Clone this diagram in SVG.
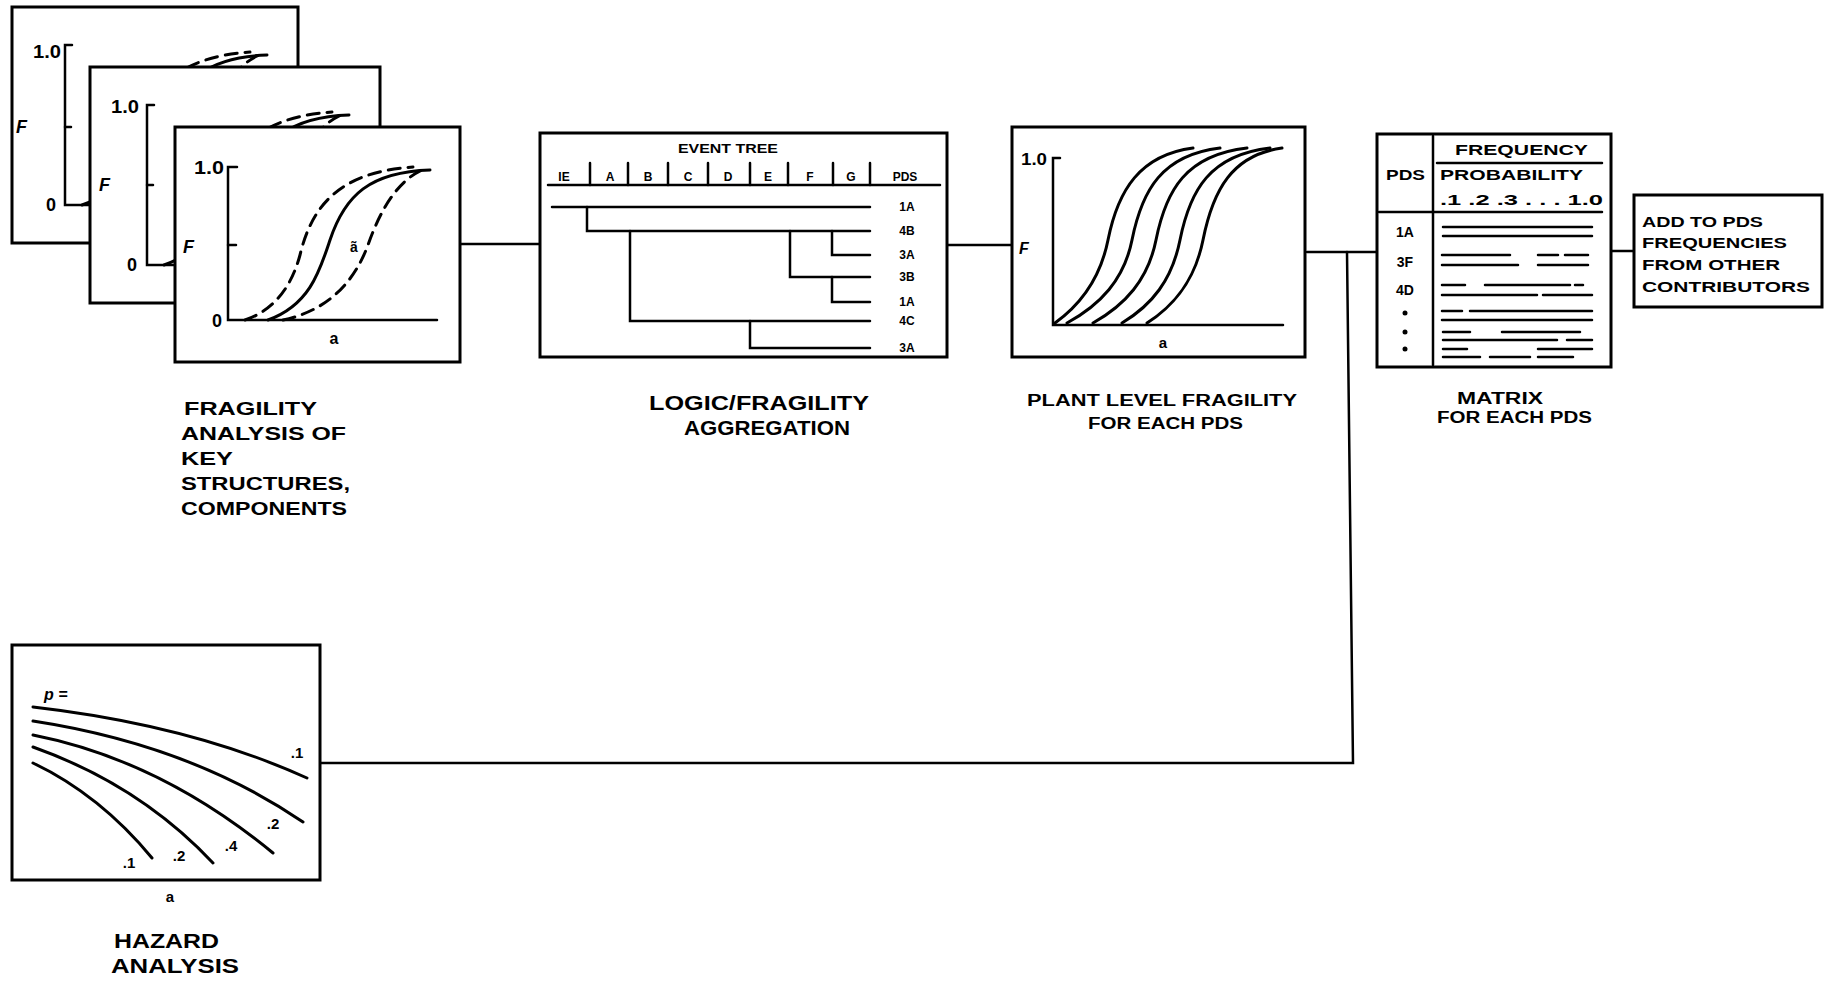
<svg xmlns="http://www.w3.org/2000/svg" width="1828" height="985" viewBox="0 0 1828 985">
<style>
.box{fill:#fff;stroke:#000;stroke-width:3}
.ln{fill:none;stroke:#000;stroke-width:2.5;stroke-linecap:round}
.cv{fill:none;stroke:#000;stroke-width:3;stroke-linecap:round}
.ds{stroke-dasharray:12 8}
.t{font-family:"Liberation Sans",Arial,sans-serif;font-weight:bold;fill:#000}
.it{font-style:italic}
.m{text-anchor:middle}
</style>
<defs>
<g id="fragCurves">
<path class="cv" d="M268 320 C310 305,320 270,330 240 C345 195,370 172,430 170"/>
<path class="cv ds" d="M245 320 C275 310,292 285,300 255 C312 205,340 172,413 167"/>
<path class="cv ds" d="M283 320 C330 310,355 280,368 245 C382 205,400 180,422 170"/>
</g>
</defs>
<rect width="1828" height="985" fill="#fff"/>

<g id="connectors">
<line class="ln" x1="460" y1="244" x2="540" y2="244"/>
<line class="ln" x1="947" y1="245" x2="1012" y2="245"/>
<line class="ln" x1="1307" y1="252" x2="1377" y2="252"/>
<polyline class="ln" points="1347,252 1353,763 321,763"/>
<line class="ln" x1="1611" y1="251" x2="1634" y2="251"/>
</g>

<g id="fragility-card-1">
<rect class="box" x="12" y="7" width="286" height="236"/>
<polyline class="ln" points="72,45 65,45 65,205 270,205"/>
<line class="ln" x1="65" y1="127" x2="71" y2="127"/>
<use href="#fragCurves" transform="translate(-163,-115)"/>
<text class="t" x="33" y="58" font-size="18" textLength="28" lengthAdjust="spacingAndGlyphs">1.0</text>
<text class="t" x="46" y="211" font-size="18">0</text>
<text class="t it" x="16" y="133" font-size="18">F</text>
</g>

<g id="fragility-card-2">
<rect class="box" x="90" y="67" width="290" height="236"/>
<polyline class="ln" points="154,105 147,105 147,265 330,265"/>
<line class="ln" x1="147" y1="185" x2="153" y2="185"/>
<use href="#fragCurves" transform="translate(-81,-55)"/>
<text class="t" x="111" y="113" font-size="18" textLength="28" lengthAdjust="spacingAndGlyphs">1.0</text>
<text class="t" x="127" y="271" font-size="18">0</text>
<text class="t it" x="99" y="191" font-size="18">F</text>
</g>

<g id="fragility-card-front">
<rect class="box" x="175" y="127" width="285" height="235"/>
<polyline class="ln" points="237,167 228,167 228,320 437,320"/>
<line class="ln" x1="228" y1="245" x2="236" y2="245"/>
<use href="#fragCurves"/>
<text class="t" x="194" y="174" font-size="18" textLength="30" lengthAdjust="spacingAndGlyphs">1.0</text>
<text class="t" x="212" y="327" font-size="18">0</text>
<text class="t it" x="183" y="253" font-size="18">F</text>
<text class="t m" x="334" y="344" font-size="16">a</text>
<text class="t m" x="354" y="252" font-size="14">ã</text>
</g>

<g id="fragility-label">
<text class="t" x="184" y="415" font-size="19" textLength="133" lengthAdjust="spacingAndGlyphs">FRAGILITY</text>
<text class="t" x="181" y="440" font-size="19" textLength="165" lengthAdjust="spacingAndGlyphs">ANALYSIS OF</text>
<text class="t" x="181" y="465" font-size="19" textLength="52" lengthAdjust="spacingAndGlyphs">KEY</text>
<text class="t" x="181" y="490" font-size="19" textLength="169" lengthAdjust="spacingAndGlyphs">STRUCTURES,</text>
<text class="t" x="181" y="515" font-size="19" textLength="166" lengthAdjust="spacingAndGlyphs">COMPONENTS</text>
</g>

<g id="event-tree">
<rect class="box" x="540" y="133" width="407" height="224"/>
<text class="t m" x="728" y="153" font-size="12" textLength="100" lengthAdjust="spacingAndGlyphs">EVENT TREE</text>
<line class="ln" x1="548" y1="185" x2="940" y2="185"/>
<g class="ln">
<line x1="590" y1="163" x2="590" y2="185"/>
<line x1="628" y1="163" x2="628" y2="185"/>
<line x1="668" y1="163" x2="668" y2="185"/>
<line x1="708" y1="163" x2="708" y2="185"/>
<line x1="750" y1="163" x2="750" y2="185"/>
<line x1="788" y1="163" x2="788" y2="185"/>
<line x1="833" y1="163" x2="833" y2="185"/>
<line x1="870" y1="163" x2="870" y2="185"/>
</g>
<g class="t m" font-size="12">
<text x="564" y="181">IE</text>
<text x="610" y="181">A</text>
<text x="648" y="181">B</text>
<text x="688" y="181">C</text>
<text x="728" y="181">D</text>
<text x="768" y="181">E</text>
<text x="810" y="181">F</text>
<text x="851" y="181">G</text>
<text x="905" y="181">PDS</text>
</g>
<g class="ln">
<line x1="552" y1="207" x2="870" y2="207"/>
<polyline points="587,207 587,231 870,231"/>
<polyline points="630,231 630,321 870,321"/>
<polyline points="790,231 790,277 870,277"/>
<polyline points="832,231 832,255 870,255"/>
<polyline points="832,277 832,302 870,302"/>
<polyline points="750,321 750,348 870,348"/>
</g>
<g class="t m" font-size="12">
<text x="907" y="211">1A</text>
<text x="907" y="235">4B</text>
<text x="907" y="259">3A</text>
<text x="907" y="281">3B</text>
<text x="907" y="306">1A</text>
<text x="907" y="325">4C</text>
<text x="907" y="352">3A</text>
</g>
</g>

<g id="logic-label">
<text class="t" x="649" y="410" font-size="20" textLength="220" lengthAdjust="spacingAndGlyphs">LOGIC/FRAGILITY</text>
<text class="t" x="684" y="435" font-size="20" textLength="166" lengthAdjust="spacingAndGlyphs">AGGREGATION</text>
</g>

<g id="plant-fragility">
<rect class="box" x="1012" y="127" width="293" height="230"/>
<polyline class="ln" points="1060,158 1053,158 1053,325 1283,325"/>
<g>
<path class="cv" d="M1055 323 C1080 305,1100 280,1108 240 C1118 190,1140 155,1193 148"/>
<path class="cv" d="M1067 323 C1100 305,1124 280,1132 240 C1142 190,1162 155,1220 148"/>
<path class="cv" d="M1093 323 C1125 305,1148 280,1156 240 C1166 190,1186 155,1247 148"/>
<path class="cv" d="M1122 323 C1152 305,1172 280,1180 240 C1190 190,1210 155,1270 148"/>
<path class="cv" d="M1147 323 C1175 305,1195 280,1203 240 C1213 190,1232 155,1282 148"/>
</g>
<text class="t" x="1021" y="165" font-size="16" textLength="26" lengthAdjust="spacingAndGlyphs">1.0</text>
<text class="t it" x="1019" y="254" font-size="16">F</text>
<text class="t m" x="1163" y="348" font-size="15">a</text>
</g>

<g id="plant-label">
<text class="t" x="1027" y="406" font-size="16" textLength="270" lengthAdjust="spacingAndGlyphs">PLANT LEVEL FRAGILITY</text>
<text class="t" x="1088" y="429" font-size="16" textLength="155" lengthAdjust="spacingAndGlyphs">FOR EACH PDS</text>
</g>

<g id="matrix">
<rect class="box" x="1377" y="134" width="234" height="233"/>
<line class="ln" x1="1433" y1="136" x2="1433" y2="365"/>
<line class="ln" x1="1437" y1="163" x2="1602" y2="163"/>
<line class="ln" x1="1379" y1="212" x2="1602" y2="212"/>
<text class="t" x="1455" y="155" font-size="14" textLength="133" lengthAdjust="spacingAndGlyphs">FREQUENCY</text>
<text class="t" x="1386" y="180" font-size="14" textLength="39" lengthAdjust="spacingAndGlyphs">PDS</text>
<text class="t" x="1440" y="180" font-size="14" textLength="143" lengthAdjust="spacingAndGlyphs">PROBABILITY</text>
<text class="t" x="1440" y="205" font-size="14" textLength="163" lengthAdjust="spacingAndGlyphs">.1 .2 .3 . . . 1.0</text>
<g class="t m" font-size="14">
<text x="1405" y="237">1A</text>
<text x="1405" y="267">3F</text>
<text x="1405" y="295">4D</text>
</g>
<circle cx="1405" cy="313" r="2.5"/>
<circle cx="1405" cy="332" r="2.5"/>
<circle cx="1405" cy="349" r="2.5"/>
<g class="ln" stroke-width="2.2">
<line x1="1443" y1="227" x2="1592" y2="227"/>
<line x1="1443" y1="236" x2="1592" y2="236"/>
<line x1="1442" y1="255" x2="1510" y2="255"/>
<line x1="1538" y1="255" x2="1558" y2="255"/>
<line x1="1565" y1="255" x2="1588" y2="255"/>
<line x1="1442" y1="265" x2="1518" y2="265"/>
<line x1="1538" y1="265" x2="1588" y2="265"/>
<line x1="1442" y1="285" x2="1465" y2="285"/>
<line x1="1485" y1="285" x2="1570" y2="285"/>
<line x1="1575" y1="285" x2="1583" y2="285"/>
<line x1="1442" y1="295" x2="1537" y2="295"/>
<line x1="1543" y1="295" x2="1592" y2="295"/>
<line x1="1442" y1="311" x2="1462" y2="311"/>
<line x1="1470" y1="311" x2="1592" y2="311"/>
<line x1="1442" y1="320" x2="1592" y2="320"/>
<line x1="1443" y1="332" x2="1470" y2="332"/>
<line x1="1502" y1="332" x2="1580" y2="332"/>
<line x1="1443" y1="340" x2="1557" y2="340"/>
<line x1="1567" y1="340" x2="1592" y2="340"/>
<line x1="1443" y1="349" x2="1467" y2="349"/>
<line x1="1538" y1="349" x2="1592" y2="349"/>
<line x1="1443" y1="357" x2="1480" y2="357"/>
<line x1="1490" y1="357" x2="1530" y2="357"/>
<line x1="1538" y1="357" x2="1573" y2="357"/>
</g>
</g>

<g id="matrix-label">
<text class="t m" x="1500" y="404" font-size="16" textLength="86" lengthAdjust="spacingAndGlyphs">MATRIX</text>
<text class="t" x="1437" y="423" font-size="16" textLength="155" lengthAdjust="spacingAndGlyphs">FOR EACH PDS</text>
</g>

<g id="add-to-pds">
<rect class="box" x="1634" y="195" width="188" height="112"/>
<text class="t" x="1642" y="227" font-size="14" textLength="121" lengthAdjust="spacingAndGlyphs">ADD TO PDS</text>
<text class="t" x="1642" y="248" font-size="14" textLength="145" lengthAdjust="spacingAndGlyphs">FREQUENCIES</text>
<text class="t" x="1642" y="270" font-size="14" textLength="138" lengthAdjust="spacingAndGlyphs">FROM OTHER</text>
<text class="t" x="1642" y="292" font-size="14" textLength="168" lengthAdjust="spacingAndGlyphs">CONTRIBUTORS</text>
</g>

<g id="hazard">
<rect class="box" x="12" y="645" width="308" height="235"/>
<path class="cv" d="M33 707 Q190 725 307 778"/>
<path class="cv" d="M33 721 Q190 745 303 822"/>
<path class="cv" d="M33 735 Q160 760 273 853"/>
<path class="cv" d="M33 747 Q140 785 213 863"/>
<path class="cv" d="M33 763 Q100 795 152 858"/>
<text class="t it" x="44" y="700" font-size="16">p =</text>
<g class="t m" font-size="15">
<text x="297" y="758">.1</text>
<text x="273" y="829">.2</text>
<text x="231" y="851">.4</text>
<text x="179" y="861">.2</text>
<text x="129" y="868">.1</text>
</g>
<text class="t m" x="170" y="902" font-size="15">a</text>
</g>

<g id="hazard-label">
<text class="t" x="114" y="948" font-size="20" textLength="105" lengthAdjust="spacingAndGlyphs">HAZARD</text>
<text class="t" x="111" y="973" font-size="20" textLength="128" lengthAdjust="spacingAndGlyphs">ANALYSIS</text>
</g>
</svg>
